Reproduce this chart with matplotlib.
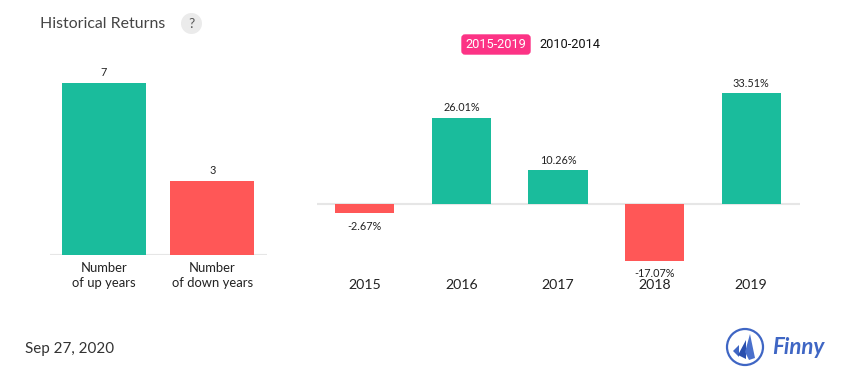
"""Historical returns summary: up/down year counts and yearly returns."""

import matplotlib

matplotlib.use("Agg")
import matplotlib.pyplot as plt
from matplotlib.patches import Circle, FancyBboxPatch, Polygon

COUNT_LABELS = ["Number\nof up years", "Number\nof down years"]
COUNT_VALUES = [7, 3]
YEARS = ["2015", "2016", "2017", "2018", "2019"]
RETURNS = [-2.67, 26.01, 10.26, -17.07, 33.51]

GREEN = "#1abc9c"
RED = "#ff5757"
AXIS_GREY = "#e6e6e6"
WIDTH, HEIGHT = 855, 382

plt.rcParams["font.family"] = ["Lato", "DejaVu Sans"]


def px_axes(fig, left, top, right, bottom, **kwargs):
    """Axes placed by pixel edges, y counted from the top of the image."""
    return fig.add_axes(
        [left / WIDTH, 1 - bottom / HEIGHT, (right - left) / WIDTH, (bottom - top) / HEIGHT],
        **kwargs,
    )


def clean(ax):
    for side in ["top", "left", "right", "bottom"]:
        ax.spines[side].set_visible(False)
    ax.set_yticks([])
    ax.patch.set_alpha(0)


fig = plt.figure(figsize=(WIDTH / 100, HEIGHT / 100), dpi=100)

# left panel: counts
ax_count = px_axes(fig, 49.5, 60, 266.5, 255)
clean(ax_count)
ax_count.bar(range(2), COUNT_VALUES, width=0.778, color=[GREEN, RED], zorder=2)
ax_count.set_xlim(-0.5, 1.5)
ax_count.set_ylim(0, 195 / (172 / 7))
ax_count.axhline(0, color=AXIS_GREY, lw=1.5, zorder=1)
ax_count.set_xticks(range(2), COUNT_LABELS, fontsize=9.4, color="#222222", linespacing=1.25)
ax_count.tick_params(axis="x", length=0, pad=5.2)
for i, v in enumerate(COUNT_VALUES):
    ax_count.annotate(str(v), (i, v), xytext=(0, 3.5), textcoords="offset points",
                      ha="center", va="bottom", fontsize=7.8, color="#222222")

# right panel: yearly returns
ax_ret = px_axes(fig, 316.5, 70, 799.5, 270)
clean(ax_ret)
scale = 111 / 33.51
ax_ret.bar(range(5), RETURNS, width=0.611, color=[GREEN if r > 0 else RED for r in RETURNS], zorder=2)
ax_ret.set_xlim(-0.5, 4.5)
ax_ret.set_ylim((204 - 270) / scale, (204 - 70) / scale)
ax_ret.axhline(0, color=AXIS_GREY, lw=1.5, zorder=1)
ax_ret.set_xticks(range(5), YEARS, fontsize=10.2, color="#222222")
ax_ret.tick_params(axis="x", length=0, pad=6.3)
for i, r in enumerate(RETURNS):
    ax_ret.annotate(f"{r:.2f}%", (i, r), xytext=(0, 3.2 if r > 0 else -5.6), textcoords="offset points",
                    ha="center", va="bottom" if r > 0 else "top", fontsize=7.8,
                    color="#222222", annotation_clip=False, zorder=5)

# page furniture, in image pixels
deco = fig.add_axes([0, 0, 1, 1], zorder=-1)
deco.set_xlim(0, WIDTH)
deco.set_ylim(HEIGHT, 0)
deco.axis("off")

deco.text(40, 23.5, "Historical Returns", fontsize=11.4, color="#444444", va="center")
deco.add_patch(Circle((191.5, 23.5), 10.5, color="#ebebeb", lw=0))
deco.text(191.5, 23.5, "?", fontsize=10, color="#555555", ha="center", va="center")

deco.add_patch(FancyBboxPatch((462, 35), 68, 19, boxstyle="round,pad=0,rounding_size=3",
                              fc="#fc3385", ec="#fc3385", lw=1))
deco.text(496, 44.7, "2015-2019", fontsize=9.2, color="white", ha="center", va="center",
          family=["Roboto", "DejaVu Sans"])
deco.text(570, 44.7, "2010-2014", fontsize=9.2, color="#111111", ha="center", va="center",
          family=["Roboto", "DejaVu Sans"])

deco.text(25, 349, "Sep 27, 2020", fontsize=10.9, color="#333333", va="center")

# Finny logo
deco.add_patch(Circle((745, 347), 18, fc="white", ec="#3f66c4", lw=1.6))
deco.add_patch(Polygon([[733, 351], [739, 345], [739, 357]], color="#3f66c4", lw=0))
deco.add_patch(Polygon([[738, 355], [746, 340], [746, 359]], color="#2a4fae", lw=0))
deco.add_patch(Polygon([[745, 352], [750, 334], [755, 358], [749, 360]], color="#4a70cc", lw=0))
deco.text(772, 348, "Finny", fontsize=16, color="#3f66c4", style="italic", weight="bold",
          va="center", family=["Lato", "DejaVu Sans"])

fig.savefig("out.png", dpi=100)
